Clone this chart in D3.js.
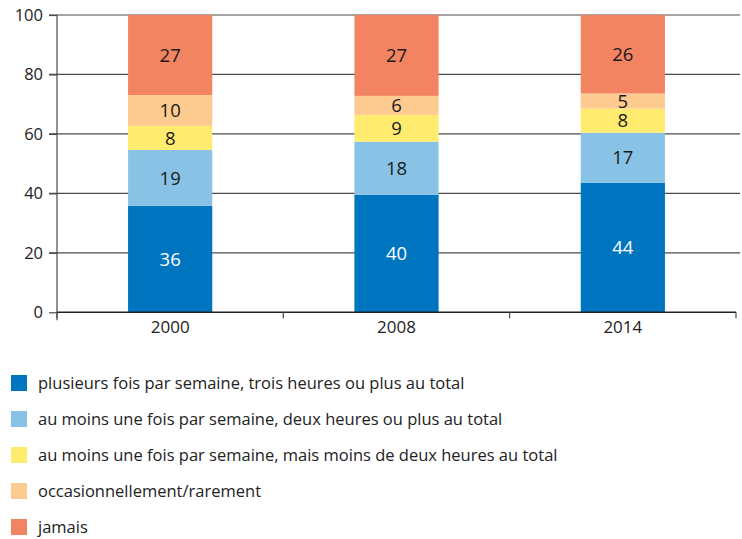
<!DOCTYPE html>
<html>
<head>
<meta charset="utf-8">
<script src="https://cdn.jsdelivr.net/npm/d3@7"></script>
<style>
  body { margin: 0; background: #fff; }
  svg text { font-family: "Open Sans", sans-serif; fill: #222; }
</style>
</head>
<body>
<svg width="742" height="539"></svg>
<script>
// data (segment sizes; labels show them rounded)
const years = ["2000", "2008", "2014"];
const seriesNames = [
  "plusieurs fois par semaine, trois heures ou plus au total",
  "au moins une fois par semaine, deux heures ou plus au total",
  "au moins une fois par semaine, mais moins de deux heures au total",
  "occasionnellement/rarement",
  "jamais"
];
const plusieurs = [35.8, 39.5, 43.6];
const uneFoisDeux = [18.8, 17.9, 16.8];
const uneFoisMoins = [8.1, 9.0, 8.1];
const occasionnel = [10.4, 6.4, 5.1];
const jamais = [26.9, 27.2, 26.4];
const yTicks = [0, 20, 40, 60, 80, 100];
const colors = ["#0075bf", "#88c3e6", "#ffeb6e", "#fdca90", "#f28462"];

const rows = years.map((yr, i) => ({
  year: yr, s0: plusieurs[i], s1: uneFoisDeux[i], s2: uneFoisMoins[i], s3: occasionnel[i], s4: jamais[i]
}));
const keys = ["s0", "s1", "s2", "s3", "s4"];
const stacked = d3.stack().keys(keys)(rows);

const svg = d3.select("svg");
const mLeft = 57, mRight = 736, mTop = 15, mBottom = 312.3;

const x = d3.scaleBand().domain(years).range([mLeft, mRight]).padding(0);
const y = d3.scaleLinear().domain([0, 100]).range([mBottom, mTop]);
const barW = x.bandwidth() * 0.372;

// gridlines
svg.append("g").selectAll("line").data(yTicks.filter(d => d > 0)).enter().append("line")
  .attr("x1", mLeft - 8).attr("x2", 740)
  .attr("y1", d => y(d)).attr("y2", d => y(d))
  .attr("stroke", "#4a4a4a").attr("stroke-width", 1.2);

// bars
const layer = svg.append("g").selectAll("g").data(stacked).enter().append("g")
  .attr("fill", (d, i) => colors[i]);
layer.selectAll("rect").data(d => d).enter().append("rect")
  .attr("x", d => x(d.data.year) + (x.bandwidth() - barW) / 2)
  .attr("width", barW)
  .attr("y", d => y(d[1]))
  .attr("height", d => y(d[0]) - y(d[1]));

// value labels
stacked.forEach((s, i) => {
  svg.append("g").selectAll("text").data(s).enter().append("text")
    .attr("x", d => x(d.data.year) + x.bandwidth() / 2)
    .attr("y", d => y((d[0] + d[1]) / 2))
    .attr("dy", "0.36em")
    .attr("text-anchor", "middle")
    .style("font-size", "18.5px")
    .style("fill", i === 0 ? "#fff" : "#1a1a1a")
    .text(d => Math.round(d[1] - d[0]));
});

// y axis
const yAxis = svg.append("g").attr("transform", `translate(${mLeft},0)`)
  .call(d3.axisLeft(y).tickValues(yTicks).tickSize(8).tickPadding(6));
yAxis.select(".domain").attr("stroke", "#4a4a4a").attr("stroke-width", 1.2).attr("d", `M0,${mTop}V${mBottom + 8}`);
yAxis.selectAll(".tick line").attr("stroke", "#4a4a4a").attr("stroke-width", 1.2);
yAxis.selectAll("text").style("font-size", "16.5px").style("font-family", "Open Sans, sans-serif").attr("fill", "#222");

// x axis
const xAxis = svg.append("g").attr("transform", `translate(0,${mBottom})`)
  .call(d3.axisBottom(x).tickSize(0).tickPadding(9));
xAxis.select(".domain").attr("stroke", "#222").attr("stroke-width", 1.4).attr("d", `M${mLeft},0H${mRight}`);
xAxis.selectAll("text").style("font-size", "17px").style("font-family", "Open Sans, sans-serif").attr("fill", "#222");
svg.append("g").selectAll("line").data(d3.range(years.length + 1)).enter().append("line")
  .attr("x1", i => mLeft + i * x.step()).attr("x2", i => mLeft + i * x.step())
  .attr("y1", mBottom).attr("y2", mBottom + 6)
  .attr("stroke", "#4a4a4a").attr("stroke-width", 1.2);

// legend
const legend = svg.append("g").selectAll("g").data(seriesNames).enter().append("g")
  .attr("transform", (d, i) => `translate(11,${375 + i * 36})`);
legend.append("rect").attr("width", 16).attr("height", 16).attr("fill", (d, i) => colors[i]);
legend.append("text").attr("x", 27).attr("y", 8).attr("dy", "0.35em")
  .style("font-size", "16.5px").text(d => d);
</script>
</body>
</html>
